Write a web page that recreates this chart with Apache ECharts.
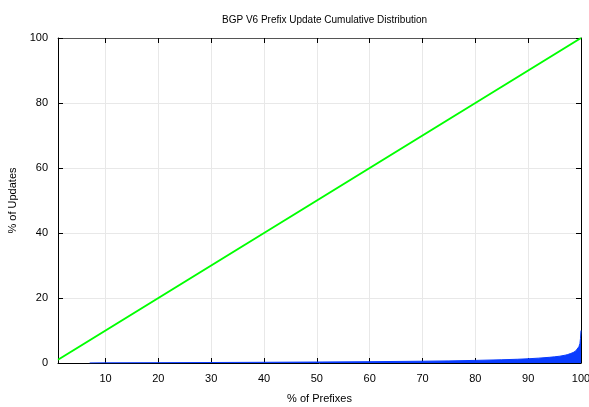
<!DOCTYPE html>
<html>
<head>
<meta charset="utf-8">
<script src="https://cdn.jsdelivr.net/npm/echarts@6/dist/echarts.min.js"></script>
<style>
  html, body { margin: 0; padding: 0; background: #fff; }
  #chart { width: 589px; height: 407px; }
</style>
</head>
<body>
<div id="chart"></div>
<script>
// Cumulative share of updates against share of prefixes (percent)
const prefixPct = [7, 10, 20, 30, 40, 50, 60, 70, 75, 80, 85, 88, 90, 92, 94, 95, 96, 97, 97.5, 98, 98.5, 99, 99.3, 99.6, 99.8, 99.9, 100];
const updatePct = [0.02, 0.05, 0.1, 0.15, 0.22, 0.3, 0.4, 0.55, 0.65, 0.8, 1.0, 1.15, 1.3, 1.5, 1.75, 1.9, 2.1, 2.4, 2.6, 2.9, 3.2, 3.7, 4.2, 5.0, 6.0, 7.5, 10];
// Uniform reference diagonal
const diagX = [1, 100];
const diagY = [1, 100];
const xTicks = [10, 20, 30, 40, 50, 60, 70, 80, 90, 100];
const yTicks = [0, 20, 40, 60, 80, 100];

const font = 'Liberation Sans, Arial, Helvetica, sans-serif';
const chart = echarts.init(document.getElementById('chart'));

const frameAxis = (color) => ({
  show: true, onZero: false, lineStyle: { color: color, width: 1 }
});

chart.setOption({
  animation: false,
  backgroundColor: '#fff',
  title: {
    text: 'BGP V6 Prefix Update Cumulative Distribution',
    left: 217, top: 10,
    textStyle: { fontFamily: font, fontSize: 10, fontWeight: 'normal', color: '#000' }
  },
  grid: { left: 58, right: 8, top: 38, bottom: 44, outerBoundsMode: 'none', containLabel: false },
  xAxis: [{
    type: 'value', min: 1, max: 100, position: 'bottom',
    name: '% of Prefixes', nameLocation: 'middle', nameGap: 30,
    nameTextStyle: { fontFamily: font, fontSize: 11, color: '#000' },
    axisLine: frameAxis('#000'),
    axisTick: { show: true, inside: true, length: 5, customValues: xTicks, lineStyle: { color: '#000' } },
    axisLabel: { customValues: xTicks, fontFamily: font, fontSize: 11, color: '#000', margin: 10 },
    splitLine: { show: true, lineStyle: { color: '#e8e8e8', width: 1 } }
  }, {
    type: 'value', min: 1, max: 100, position: 'top',
    axisLine: frameAxis('#555'),
    axisTick: { show: true, inside: true, length: 5, customValues: xTicks, lineStyle: { color: '#000' } },
    axisLabel: { show: false },
    splitLine: { show: false }
  }],
  yAxis: [{
    type: 'value', min: 0, max: 100, interval: 20, position: 'left',
    name: '% of Updates', nameLocation: 'middle', nameGap: 31,
    nameTextStyle: { fontFamily: font, fontSize: 11, color: '#000' },
    axisLine: frameAxis('#000'),
    axisTick: { show: true, inside: true, length: 5, customValues: yTicks, lineStyle: { color: '#000' } },
    axisLabel: { customValues: yTicks, fontFamily: font, fontSize: 11, color: '#000', margin: 10 },
    splitLine: { show: true, lineStyle: { color: '#e8e8e8', width: 1 } }
  }, {
    type: 'value', min: 0, max: 100, interval: 20, position: 'right',
    axisLine: frameAxis('#000'),
    axisTick: { show: true, inside: true, length: 5, lineStyle: { color: '#000' } },
    axisLabel: { show: false },
    splitLine: { show: false }
  }],
  series: [{
    type: 'line',
    data: diagX.map((x, i) => [x, diagY[i]]),
    symbol: 'none',
    lineStyle: { color: '#00ff00', width: 2 },
    z: 3
  }, {
    type: 'line',
    data: prefixPct.map((x, i) => [x, updatePct[i]]),
    symbol: 'none',
    lineStyle: { color: '#0a3cff', width: 1 },
    areaStyle: { color: '#0a3cff', opacity: 1 },
    z: 2
  }]
});
</script>
</body>
</html>
